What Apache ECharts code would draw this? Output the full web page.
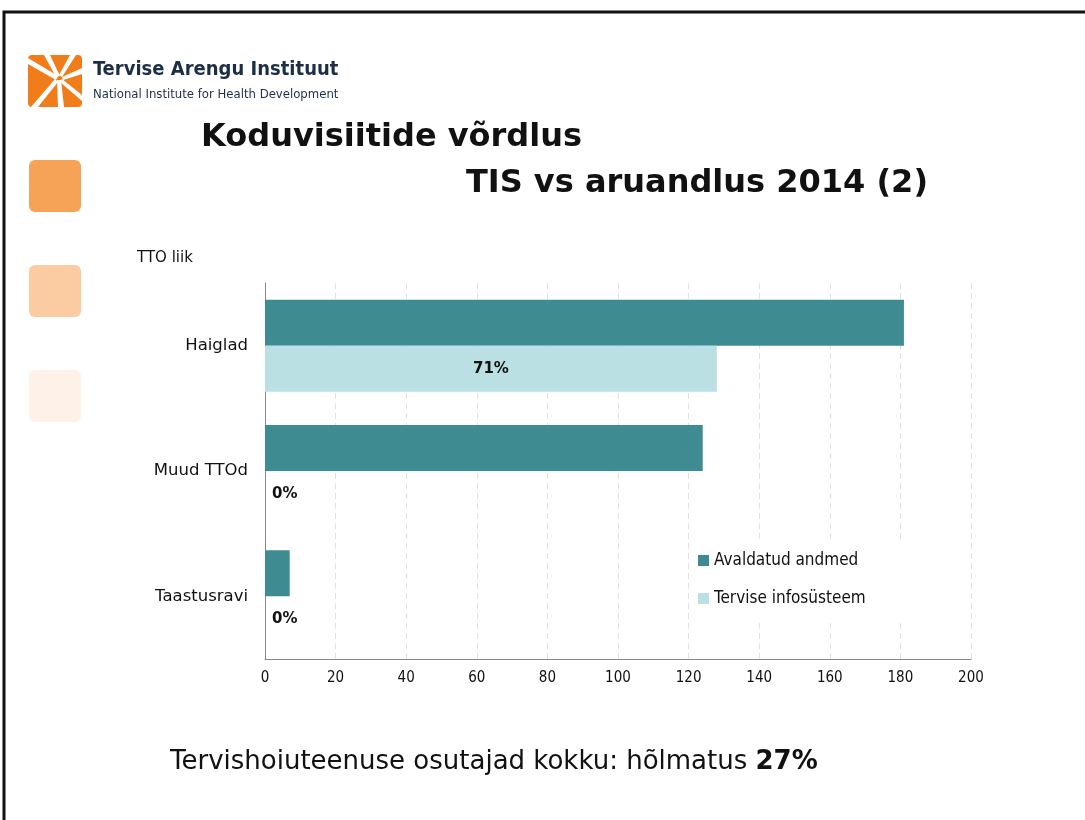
<!DOCTYPE html>
<html>
<head>
<meta charset="utf-8">
<title>Koduvisiitide võrdlus</title>
<script src="https://cdn.jsdelivr.net/npm/echarts@6/dist/echarts.min.js"></script>
<style>
  html, body { margin: 0; padding: 0; background: #fff; }
  #chart { width: 1085px; height: 820px; }
</style>
</head>
<body>
<div id="chart"></div>
<script>
// andmed
const categories = ['Haiglad', 'Muud TTOd', 'Taastusravi']
const avaldatud = [181, 124, 7]
const tis = [128, 0, 0]
const seriesNames = ['Avaldatud andmed', 'Tervise infosüsteem']
const xTicks = [0, 20, 40, 60, 80, 100, 120, 140, 160, 180, 200]

const font = 'DejaVu Sans, Verdana, sans-serif'
const condensed = 'DejaVu Sans Condensed, DejaVu Sans, sans-serif'

// TIS osakaal avaldatud andmetest, näidatakse TIS ribal
const tisData = tis.map(function (v, i) {
  const pct = Math.round(v / avaldatud[i] * 100) + '%'
  return {
    value: v,
    label: {
      show: true,
      formatter: pct,
      position: v > 0 ? 'inside' : 'insideLeft',
      distance: 7
    }
  }
})

const myChart = echarts.init(document.getElementById('chart'))

const option = {
  animation: false,
  textStyle: { fontFamily: font },
  grid: { left: 265, right: 114, top: 283, bottom: 161 },
  legend: {
    orient: 'vertical',
    left: 690,
    top: 540,
    data: seriesNames,
    icon: 'rect',
    itemWidth: 11,
    itemHeight: 11,
    itemGap: 21,
    padding: [12, 50, 14, 8],
    backgroundColor: '#fff',
    textStyle: { fontFamily: condensed, fontSize: 17, color: '#111' }
  },
  xAxis: {
    type: 'value',
    min: xTicks[0],
    max: xTicks[xTicks.length - 1],
    interval: 20,
    axisLine: { show: true, lineStyle: { color: '#888' } },
    axisTick: { show: false },
    axisLabel: { fontFamily: condensed, fontSize: 15, color: '#111', margin: 12 },
    splitLine: { show: true, lineStyle: { color: '#e3e3e3', type: [6, 4] } }
  },
  yAxis: {
    type: 'category',
    inverse: true,
    data: categories,
    axisLine: { show: true, lineStyle: { color: '#888' } },
    axisTick: { show: false },
    axisLabel: { fontSize: 16.5, color: '#111', margin: 17 }
  },
  series: [
    {
      name: seriesNames[0],
      type: 'bar',
      data: avaldatud,
      barWidth: 46,
      barGap: '0%',
      itemStyle: { color: '#3e8b91' }
    },
    {
      name: seriesNames[1],
      type: 'bar',
      data: tisData,
      barWidth: 46,
      barGap: '0%',
      itemStyle: { color: '#bae0e3' },
      label: { fontSize: 15, fontWeight: 'bold', color: '#111' }
    }
  ],
  graphic: [
    // raam
    { type: 'rect', shape: { x: 4, y: 12, width: 1090, height: 820 }, style: { fill: 'none', stroke: '#111', lineWidth: 3 } },
    // logo
    { type: 'rect', shape: { x: 28, y: 55, width: 54, height: 52, r: 4 }, style: { fill: '#f07d1a' } },
    { type: 'polygon', shape: { points: [[28, 58], [28, 64], [56, 80], [58, 76]] }, style: { fill: '#fff' } },
    { type: 'polygon', shape: { points: [[44, 55], [50, 55], [60, 76], [56, 77]] }, style: { fill: '#fff' } },
    { type: 'polygon', shape: { points: [[70, 55], [76, 55], [62, 77], [59, 75]] }, style: { fill: '#fff' } },
    { type: 'polygon', shape: { points: [[82, 68], [82, 74], [63, 80], [62, 77]] }, style: { fill: '#fff' } },
    { type: 'polygon', shape: { points: [[57, 80], [61, 80], [64, 107], [58, 107]] }, style: { fill: '#fff' } },
    { type: 'polygon', shape: { points: [[55, 79], [58, 82], [38, 107], [31, 107]] }, style: { fill: '#fff' } },
    { type: 'polygon', shape: { points: [[62, 79], [82, 95], [82, 101], [60, 82]] }, style: { fill: '#fff' } },
    { type: 'text', left: 93, top: 60, style: { text: 'Tervise Arengu Instituut', font: '600 20px ' + condensed, fill: '#1d2f45' } },
    { type: 'text', left: 93, top: 88, style: { text: 'National Institute for Health Development', font: '13px ' + condensed, fill: '#1d2f45' } },
    // vasakpoolsed ruudud
    { type: 'rect', shape: { x: 29, y: 160, width: 52, height: 52, r: 6 }, style: { fill: '#f6a257' } },
    { type: 'rect', shape: { x: 29, y: 265, width: 52, height: 52, r: 6 }, style: { fill: '#fbcca1' } },
    { type: 'rect', shape: { x: 29, y: 370, width: 52, height: 52, r: 6 }, style: { fill: '#fef2e8' } },
    // pealkiri
    { type: 'text', left: 201, top: 122, style: { text: 'Koduvisiitide võrdlus', font: 'bold 32px ' + font, fill: '#111' } },
    { type: 'text', right: 157, top: 168, style: { text: 'TIS vs aruandlus 2014 (2)', font: 'bold 32px ' + font, fill: '#111' } },
    // telje nimi
    { type: 'text', left: 137, top: 251, style: { text: 'TTO liik', font: '15px ' + font, fill: '#111' } },
    // kokkuvõte
    {
      type: 'text', left: 170, top: 749,
      style: {
        text: '{n|Tervishoiuteenuse osutajad kokku: hõlmatus }{b|27%}',
        rich: {
          n: { font: '26px ' + font, fill: '#111' },
          b: { font: 'bold 26px ' + font, fill: '#111' }
        }
      }
    }
  ]
}

myChart.setOption(option)
</script>
</body>
</html>
